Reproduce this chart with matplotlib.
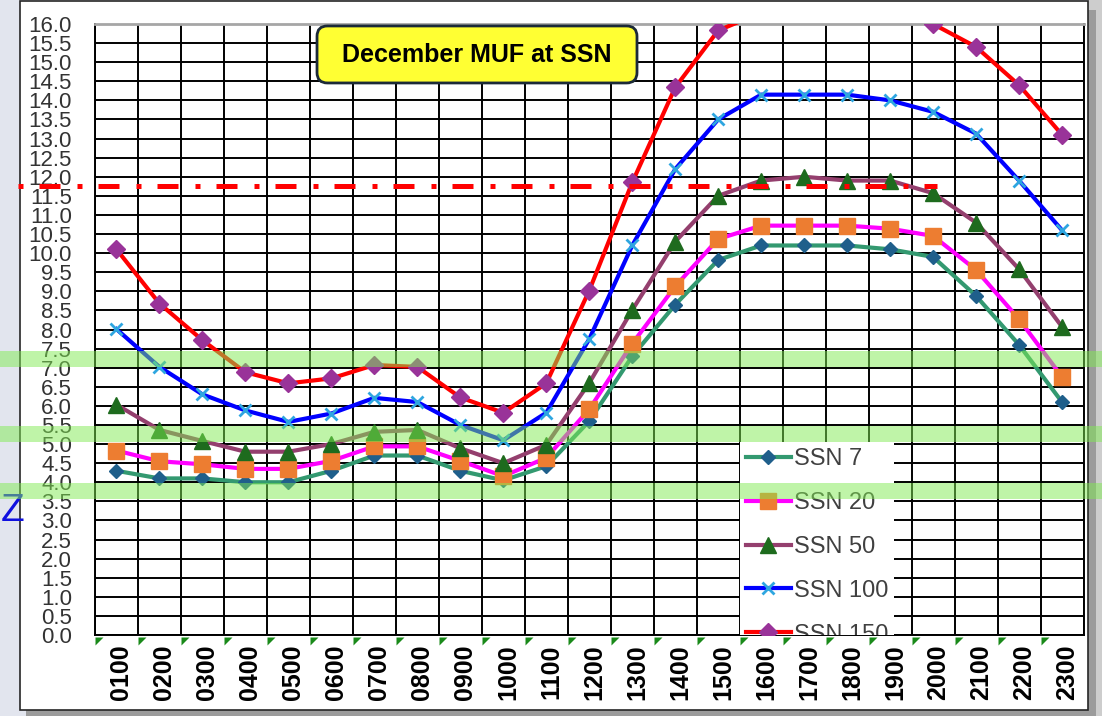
import numpy as np
import matplotlib
matplotlib.use("Agg")
import matplotlib.pyplot as plt
from matplotlib.patches import Rectangle, FancyBboxPatch
from matplotlib.transforms import blended_transform_factory, ScaledTranslation

# data
hours = ["0100", "0200", "0300", "0400", "0500", "0600", "0700", "0800", "0900", "1000", "1100", "1200",
         "1300", "1400", "1500", "1600", "1700", "1800", "1900", "2000", "2100", "2200", "2300"]
ssn7 = [4.3, 4.1, 4.1, 4.0, 4.0, 4.3, 4.7, 4.7, 4.3, 4.05, 4.42, 5.6,
        7.3, 8.65, 9.82, 10.2, 10.2, 10.2, 10.1, 9.9, 8.88, 7.6, 6.1]
ssn20 = [4.83, 4.55, 4.47, 4.35, 4.35, 4.56, 4.94, 4.94, 4.56, 4.16, 4.64, 5.91,
         7.63, 9.13, 10.37, 10.72, 10.72, 10.72, 10.64, 10.45, 9.56, 8.27, 6.76]
ssn50 = [6.03, 5.37, 5.08, 4.8, 4.8, 5.0, 5.32, 5.37, 4.89, 4.5, 4.98, 6.6,
         8.51, 10.3, 11.5, 11.9, 12.0, 11.9, 11.9, 11.57, 10.8, 9.58, 8.07]
ssn100 = [8.01, 7.02, 6.3, 5.88, 5.58, 5.8, 6.21, 6.1, 5.5, 5.1, 5.82, 7.75,
          10.2, 12.2, 13.5, 14.15, 14.15, 14.15, 14.0, 13.7, 13.13, 11.9, 10.6]
ssn150 = [10.1, 8.68, 7.72, 6.88, 6.59, 6.72, 7.07, 7.02, 6.22, 5.82, 6.59, 9.02,
          11.85, 14.34, 15.83, 16.3, 16.5, 16.5, 16.3, 16.0, 15.4, 14.4, 13.1]
labels = ["SSN 7", "SSN 20", "SSN 50", "SSN 100", "SSN 150"]
bands = [(3.57, 3.98), (5.05, 5.47), (7.02, 7.45)]
muf_ref = 11.75
ref_span = (-2.3, 19.1)

series = [ssn7, ssn20, ssn50, ssn100, ssn150]
line_colors = ["#339970", "#ff00ff", "#943f6e", "#0000ff", "#ff0000"]
mk = ["D", "s", "^", "x", "D"]
mk_colors = ["#1f5f8b", "#ed7d31", "#1e6b1e", "#2ea6e0", "#993399"]
mk_sizes = [7, 11, 11, 9, 9]

fig = plt.figure(figsize=(11.02, 7.16), dpi=100)
fig.patch.set_facecolor("#e2e5ee")
W, H = 1102, 716

# chart container
fig.add_artist(Rectangle((1088 / W, 0), 14 / W, 1, facecolor="#cdcdcd", edgecolor="none", zorder=-3))
fig.add_artist(Rectangle((26 / W, 0), (1096 - 26) / W, (710 - 4) / H, facecolor="#9b9b9b",
                         edgecolor="none", zorder=-2))
fig.add_artist(Rectangle((19.5 / W, 6 / H), (1088 - 19.5) / W, (715 - 6) / H, facecolor="white",
                         edgecolor="#262626", lw=1.2, zorder=-1))
fig.text(0.5 / W, (H - 521) / H, "Z", color="#1010e0", fontsize=28, ha="left", va="baseline",
         family="Liberation Sans")

ax = fig.add_axes([95 / W, (H - 635) / H, (1083.5 - 95) / W, (635 - 24) / H])
ax.set_facecolor("white")
x = np.arange(len(hours))

for ys, lab, lc, m, mc, ms in zip(series, labels, line_colors, mk, mk_colors, mk_sizes):
    ax.plot(x, ys, color=lc, lw=3, marker=m, ms=ms, mfc=mc, mec=mc,
            mew=2 if m == "x" else 1, label=lab, zorder=3)

ax.plot(ref_span, [muf_ref, muf_ref], color="#ff0000", lw=3.6, ls=(0, (1, 3.2, 4.2, 3.4)),
        dash_capstyle="butt", clip_on=False, zorder=4)

ax.set_xlim(-0.5, len(hours) - 0.5)
ax.set_ylim(0, 16)
ax.set_yticks(np.arange(0, 16.01, 0.5))
ax.set_yticklabels([f"{v:.1f}" for v in np.arange(0, 16.01, 0.5)])
ax.set_xticks(x, hours)
ax.set_xticks(np.arange(-0.5, len(hours), 1), minor=True)
ax.grid(True, axis="y", which="major", color="black", lw=1.4)
ax.grid(True, axis="x", which="minor", color="black", lw=1.4)
ax.tick_params(axis="y", length=0, pad=16.5, labelsize=16, labelcolor="#333333")
ax.tick_params(axis="x", which="both", length=0, pad=7)
for t in ax.get_xticklabels():
    t.set_rotation(90)
    t.set_fontweight("bold")
    t.set_fontsize(18)
    t.set_transform(t.get_transform() + ScaledTranslation(5 / 100, 0, fig.dpi_scale_trans))
for t in ax.get_yticklabels():
    t.set_family("Liberation Sans")
for t in ax.get_xticklabels():
    t.set_family("Liberation Sans")
for s in ["left", "right", "bottom"]:
    ax.spines[s].set_color("black")
    ax.spines[s].set_linewidth(1.4)
ax.spines["top"].set_color("#a6a6a6")
ax.spines["top"].set_linewidth(2)

# green tick marks under the axis
ax.plot(np.arange(-0.5, len(hours) - 1, 1), np.full(len(hours), -0.05), ls="none",
        marker=[(0, 0), (1, 0), (0, -1)], ms=11.5, color="#1a8a1a", mew=0, clip_on=False)

# title box
ax.add_patch(FancyBboxPatch((0.2246, 0.9035), 0.3237, 0.0933, transform=ax.transAxes,
                            boxstyle="round,pad=0,rounding_size=0.0105", mutation_aspect=988.5 / 611,
                            facecolor="#ffff33", edgecolor="#1c2a38", lw=2, zorder=6, clip_on=False))
ax.text(0.3864, 0.950, "December MUF at SSN", transform=ax.transAxes, ha="center", va="center",
        fontsize=18, fontweight="bold", family="Liberation Sans", zorder=7)

leg = ax.legend(loc="upper left", bbox_to_anchor=(0.6525, 0.3159), borderaxespad=0, frameon=True,
                facecolor="white", edgecolor="none", framealpha=1, fancybox=False,
                prop={"family": ["Liberation Sans Narrow", "Liberation Sans"], "size": 17},
                handlelength=1.9, handletextpad=0.13, labelspacing=0.93, borderpad=0.25)
for t in leg.get_texts():
    t.set_color("#404040")
for a in leg.findobj():
    if a is not leg:
        a.set_clip_box(ax.bbox)
        a.set_clip_on(True)

# green frequency bands across the whole picture
btr = blended_transform_factory(fig.transFigure, ax.transData)
for lo, hi in bands:
    fig.add_artist(Rectangle((0, lo), 1, hi - lo, transform=btr, facecolor="#80eb52",
                             alpha=0.5, edgecolor="none", zorder=10))

fig.savefig("out.png", dpi=100, facecolor=fig.get_facecolor())
